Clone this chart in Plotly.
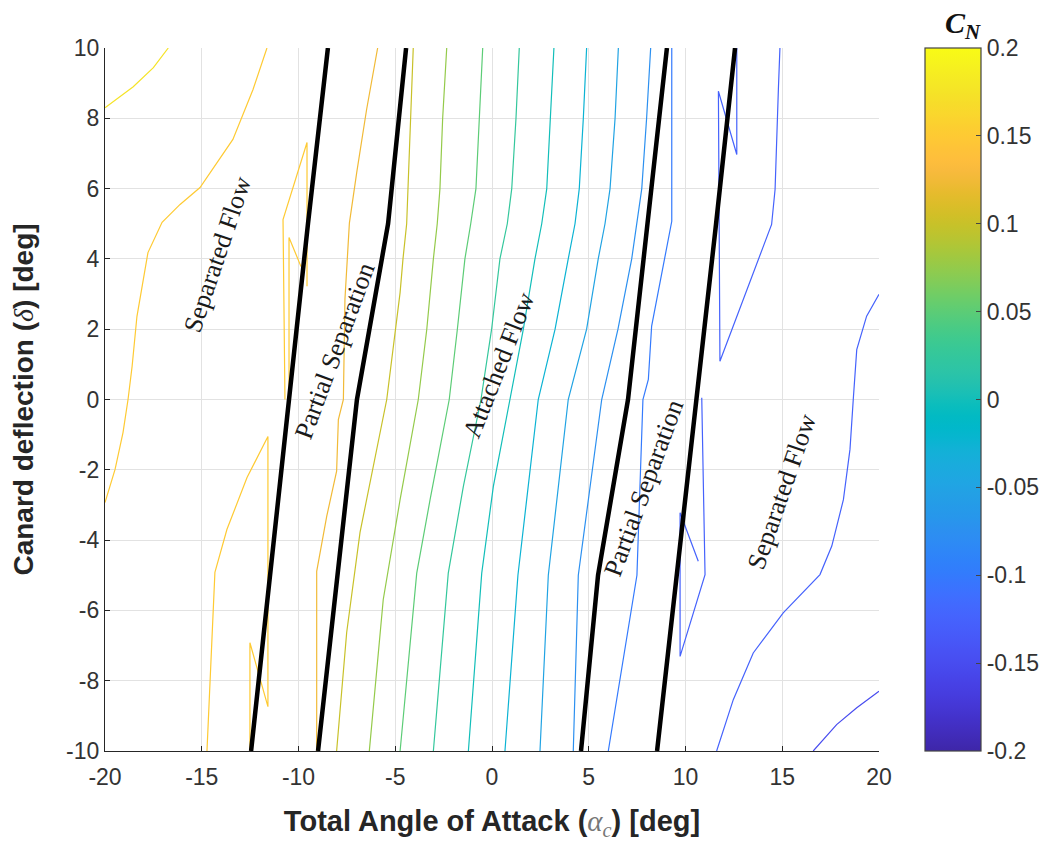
import plotly.graph_objects as go

# ---------------- data ----------------
# Contour lines of C_N: (level, alpha [deg], delta [deg])
lev_p175_alpha = [-20.0, -18.54, -17.50, -16.73]
lev_p175_delta = [8.30, 8.90, 9.44, 10.0]

lev_p150a_alpha = [-11.63, -12.35, -13.39, -15.09, -16.12, -17.05, -17.78, -18.35, -18.60, -18.81, -19.07, -19.48, -20.0]
lev_p150a_delta = [10, 8.82, 7.40, 6.03, 5.55, 5.04, 4.18, 2.36, 0.94, 0, -0.94, -1.99, -2.93]
lev_p150b_alpha = [-12.51, -12.51, -11.58, -11.58, -12.66, -13.70, -14.32, -14.73]
lev_p150b_delta = [-10, -6.92, -8.74, -1.05, -2.22, -3.70, -4.92, -10]
lev_p150c_alpha = [-10.70, -10.80, -9.56, -9.56]
lev_p150c_delta = [0, 5.12, 7.31, 3.22]
lev_p150d_alpha = [-10.49, -10.49, -9.87]
lev_p150d_delta = [0, 4.61, 3.78]

lev_p125_alpha = [-5.91, -6.48, -6.99, -7.37, -7.60, -7.68, -7.94, -8.03, -8.54, -9.06, -9.06]
lev_p125_delta = [10, 8.25, 6.46, 5.02, 2.85, 0, -0.57, -2.04, -3.32, -4.89, -10]

lev_p100_alpha = [-4.07, -4.20, -4.33, -4.41, -4.60, -4.75, -5.44, -6.82, -7.51, -8.03]
lev_p100_delta = [10, 8, 6, 5, 4, 3.04, 0, -3.78, -6.63, -10]

lev_p075_alpha = [-2.34, -2.55, -2.69, -2.83, -3.03, -3.37, -3.81, -4.75, -5.62, -6.34]
lev_p075_delta = [10, 8, 6, 5, 4, 2, 0, -2.85, -5.69, -10]

lev_p050_alpha = [-0.48, -0.66, -0.83, -1.10, -1.40, -1.79, -2.21, -3.20, -3.89, -4.75]
lev_p050_delta = [10, 8, 6, 5, 4, 2, 0, -2.85, -4.94, -10]

lev_p025_alpha = [1.41, 1.24, 1.02, 0.79, 0.41, -0.02, -0.57, -1.48, -2.26, -3.03]
lev_p025_delta = [10, 8, 6, 5, 4, 2, 0, -2.47, -4.94, -10]

lev_000_alpha = [3.20, 3.03, 2.83, 2.57, 2.22, 1.62, 0.93, 0.07, -0.53, -1.22]
lev_000_delta = [10, 8, 6, 5, 4, 2, 0, -2.47, -4.94, -10]

lev_m025_alpha = [4.89, 4.72, 4.51, 4.29, 3.94, 3.26, 2.39, 1.34, 0.67]
lev_m025_delta = [10, 8, 6, 5, 4, 2, 0, -5, -10]

lev_m050_alpha = [6.53, 6.36, 6.10, 5.84, 5.49, 4.89, 3.94, 2.91, 2.48]
lev_m050_delta = [10, 8, 6, 5, 4, 2, 0, -5, -10]

lev_m075_alpha = [8.20, 7.99, 7.74, 7.49, 7.22, 6.51, 5.67, 4.46, 4.20]
lev_m075_delta = [10, 8, 6, 5, 4, 2, 0, -5, -10]

lev_m100_alpha = [9.29, 9.29, 8.25, 8.08, 7.80, 7.49, 6.01]
lev_m100_delta = [10, 5.07, 2.09, 0.57, 0, -5, -10]

lev_m125a_alpha = [12.65, 12.65, 11.70, 11.78, 14.45, 14.63, 14.80, 14.88]
lev_m125a_delta = [10, 6.97, 8.77, 1.09, 4.98, 5.98, 8.82, 10]
lev_m125b_alpha = [10.84, 11.01, 9.72, 9.72, 10.66]
lev_m125b_delta = [0.05, -4.98, -7.31, -3.22, -4.60]
lev_m125c_alpha = [11.61, 12.47, 13.50, 15.05, 16.95, 17.56, 18.16, 18.50, 18.67, 18.85, 19.36, 20.0]
lev_m125c_delta = [-10, -8.54, -7.21, -6.07, -4.98, -4.17, -2.85, -1.42, 0, 1.42, 2.37, 2.99]

lev_m150_alpha = [16.60, 17.81, 18.85, 20.0]
lev_m150_delta = [-10, -9.25, -8.77, -8.30]

contours = [
    (0.175, lev_p175_alpha, lev_p175_delta),
    (0.15, lev_p150a_alpha, lev_p150a_delta),
    (0.15, lev_p150b_alpha, lev_p150b_delta),
    (0.15, lev_p150c_alpha, lev_p150c_delta),
    (0.15, lev_p150d_alpha, lev_p150d_delta),
    (0.125, lev_p125_alpha, lev_p125_delta),
    (0.10, lev_p100_alpha, lev_p100_delta),
    (0.075, lev_p075_alpha, lev_p075_delta),
    (0.05, lev_p050_alpha, lev_p050_delta),
    (0.025, lev_p025_alpha, lev_p025_delta),
    (0.0, lev_000_alpha, lev_000_delta),
    (-0.025, lev_m025_alpha, lev_m025_delta),
    (-0.05, lev_m050_alpha, lev_m050_delta),
    (-0.075, lev_m075_alpha, lev_m075_delta),
    (-0.10, lev_m100_alpha, lev_m100_delta),
    (-0.125, lev_m125a_alpha, lev_m125a_delta),
    (-0.125, lev_m125b_alpha, lev_m125b_delta),
    (-0.125, lev_m125c_alpha, lev_m125c_delta),
    (-0.15, lev_m150_alpha, lev_m150_delta),
]

# Flow-regime boundaries (thick black lines)
bnd_delta = [-10, -5, 0, 5, 10]
bnd1_alpha = [-12.45, -11.47, -10.54, -9.51, -8.48]
bnd2_alpha = [-8.99, -7.98, -6.98, -5.37, -4.44]
bnd3_alpha = [4.60, 5.48, 7.03, 8.04, 9.04]
bnd4_alpha = [8.53, 9.56, 10.59, 11.58, 12.56]

# Region labels
region_text = ["Separated Flow", "Partial Separation", "Attached Flow", "Partial Separation", "Separated Flow"]
region_alpha = [-14.19, -8.11, 0.34, 7.86, 14.97]
region_delta = [4.13, 1.39, 0.97, -2.51, -2.61]
region_angle = [-71.4, -69.6, -68.5, -69.8, -70.9]

x_tickvals = [-20, -15, -10, -5, 0, 5, 10, 15, 20]
x_ticktext = ["-20", "-15", "-10", "-5", "0", "5", "10", "15", "20"]
y_tickvals = [-10, -8, -6, -4, -2, 0, 2, 4, 6, 8, 10]
y_ticktext = ["-10", "-8", "-6", "-4", "-2", "0", "2", "4", "6", "8", "10"]
cb_tickvals = [-0.2, -0.15, -0.1, -0.05, 0, 0.05, 0.1, 0.15, 0.2]
cb_ticktext = ["-0.2", "-0.15", "-0.1", "-0.05", "0", "0.05", "0.1", "0.15", "0.2"]
cmin, cmax = -0.2, 0.2

# ---------------- parula colormap ----------------
parula_rgb = [
    (0.2422, 0.1504, 0.6603), (0.2504, 0.1650, 0.7076), (0.2578, 0.1818, 0.7511), (0.2647, 0.1978, 0.7952),
    (0.2706, 0.2147, 0.8364), (0.2751, 0.2342, 0.8710), (0.2783, 0.2559, 0.8991), (0.2803, 0.2782, 0.9221),
    (0.2813, 0.3006, 0.9414), (0.2810, 0.3228, 0.9579), (0.2795, 0.3447, 0.9717), (0.2760, 0.3667, 0.9829),
    (0.2699, 0.3892, 0.9906), (0.2602, 0.4123, 0.9952), (0.2440, 0.4358, 0.9988), (0.2206, 0.4603, 0.9973),
    (0.1963, 0.4847, 0.9892), (0.1834, 0.5074, 0.9798), (0.1786, 0.5289, 0.9682), (0.1764, 0.5499, 0.9520),
    (0.1687, 0.5703, 0.9359), (0.1540, 0.5902, 0.9218), (0.1460, 0.6091, 0.9079), (0.1380, 0.6276, 0.8973),
    (0.1248, 0.6459, 0.8883), (0.1113, 0.6635, 0.8763), (0.0952, 0.6798, 0.8598), (0.0689, 0.6948, 0.8394),
    (0.0297, 0.7082, 0.8163), (0.0036, 0.7203, 0.7917), (0.0067, 0.7312, 0.7660), (0.0433, 0.7411, 0.7394),
    (0.0964, 0.7500, 0.7120), (0.1408, 0.7584, 0.6842), (0.1717, 0.7670, 0.6554), (0.1938, 0.7758, 0.6251),
    (0.2161, 0.7843, 0.5923), (0.2470, 0.7918, 0.5567), (0.2906, 0.7973, 0.5188), (0.3406, 0.8008, 0.4789),
    (0.3909, 0.8029, 0.4354), (0.4456, 0.8024, 0.3909), (0.5044, 0.7993, 0.3480), (0.5616, 0.7942, 0.3045),
    (0.6174, 0.7876, 0.2612), (0.6720, 0.7793, 0.2227), (0.7242, 0.7698, 0.1910), (0.7738, 0.7598, 0.1646),
    (0.8203, 0.7498, 0.1535), (0.8634, 0.7406, 0.1596), (0.9035, 0.7330, 0.1774), (0.9393, 0.7288, 0.2100),
    (0.9728, 0.7298, 0.2394), (0.9956, 0.7434, 0.2371), (0.9970, 0.7659, 0.2199), (0.9952, 0.7893, 0.2028),
    (0.9892, 0.8136, 0.1885), (0.9786, 0.8386, 0.1766), (0.9676, 0.8639, 0.1643), (0.9610, 0.8890, 0.1537),
    (0.9597, 0.9135, 0.1423), (0.9628, 0.9373, 0.1265), (0.9691, 0.9606, 0.1064), (0.9769, 0.9839, 0.0805),
]
n = len(parula_rgb)


def rgb_str(c):
    return "rgb(%d,%d,%d)" % tuple(round(v * 255) for v in c)


parula = [[i / (n - 1), rgb_str(c)] for i, c in enumerate(parula_rgb)]


def level_color(v):
    t = (v - cmin) / (cmax - cmin) * (n - 1)
    t = min(max(t, 0), n - 1)
    i = int(t)
    j = min(i + 1, n - 1)
    f = t - i
    c = tuple(parula_rgb[i][k] * (1 - f) + parula_rgb[j][k] * f for k in range(3))
    return rgb_str(c)


# ---------------- figure ----------------
fig = go.Figure()

for lev, a, d in contours:
    fig.add_trace(go.Scatter(x=a, y=d, mode="lines", line=dict(color=level_color(lev), width=1.2),
                             hoverinfo="skip", showlegend=False))

for b in (bnd1_alpha, bnd2_alpha, bnd3_alpha, bnd4_alpha):
    fig.add_trace(go.Scatter(x=b, y=bnd_delta, mode="lines", line=dict(color="black", width=4.5),
                             hoverinfo="skip", showlegend=False))

# colorbar carrier
fig.add_trace(go.Scatter(
    x=[0], y=[0], mode="markers", hoverinfo="skip", showlegend=False,
    marker=dict(size=0.1, opacity=0, color=[0], colorscale=parula, cmin=cmin, cmax=cmax, showscale=True,
                colorbar=dict(
                    x=1.0594, xanchor="left", xpad=0, y=0.5, yanchor="middle", ypad=0,
                    len=703, lenmode="pixels", thickness=56, thicknessmode="pixels",
                    outlinewidth=1.2, outlinecolor="#444444",
                    tickvals=cb_tickvals, ticktext=cb_ticktext, ticks="inside", ticklen=5,
                    tickcolor="#444444", tickfont=dict(family="Liberation Sans", size=23, color="#333333"),
                ))))

for txt, a, d, ang in zip(region_text, region_alpha, region_delta, region_angle):
    fig.add_annotation(x=a, y=d, text=txt, textangle=ang, showarrow=False,
                       font=dict(family="Liberation Serif", size=26, color="#1a1a1a"))

fig.add_annotation(xref="paper", yref="paper", x=1.0827, y=1.0, xanchor="left", yanchor="bottom",
                   yshift=2, showarrow=False,
                   text="<b><i>C</i></b><sub><b><i>N</i></b></sub>",
                   font=dict(family="Liberation Serif", size=30, color="#111111"))

axis_common = dict(showgrid=True, gridcolor="#e2e2e2", gridwidth=1, zeroline=False,
                   showline=True, linecolor="#262626", linewidth=1.2, mirror=False,
                   ticks="inside", ticklen=5, tickcolor="#262626",
                   tickfont=dict(family="Liberation Sans", size=23, color="#333333"))

fig.update_xaxes(range=[-20, 20], tickvals=x_tickvals, ticktext=x_ticktext, ticklabelstandoff=5,
                 title=dict(text="<b>Total Angle of Attack (</b><span style=\"font-family:'Liberation Serif';"
                                 "font-style:italic;color:#777777\">α<sub>c</sub></span><b>) [deg]</b>",
                            font=dict(family="Liberation Sans", size=29, color="#262626"), standoff=21),
                 **axis_common)
fig.update_yaxes(range=[-10, 10], tickvals=y_tickvals, ticktext=y_ticktext,
                 title=dict(text="<b>Canard deflection (</b><span style=\"font-family:'Liberation Serif';"
                                 "font-style:italic\">δ</span><b>) [deg]</b>",
                            font=dict(family="Liberation Sans", size=28, color="#262626"), standoff=24),
                 **axis_common)

fig.update_layout(width=1043, height=837, margin=dict(l=97, r=172, t=40, b=94, autoexpand=False),
                  plot_bgcolor="white", paper_bgcolor="white")

fig.write_html("out.html")
